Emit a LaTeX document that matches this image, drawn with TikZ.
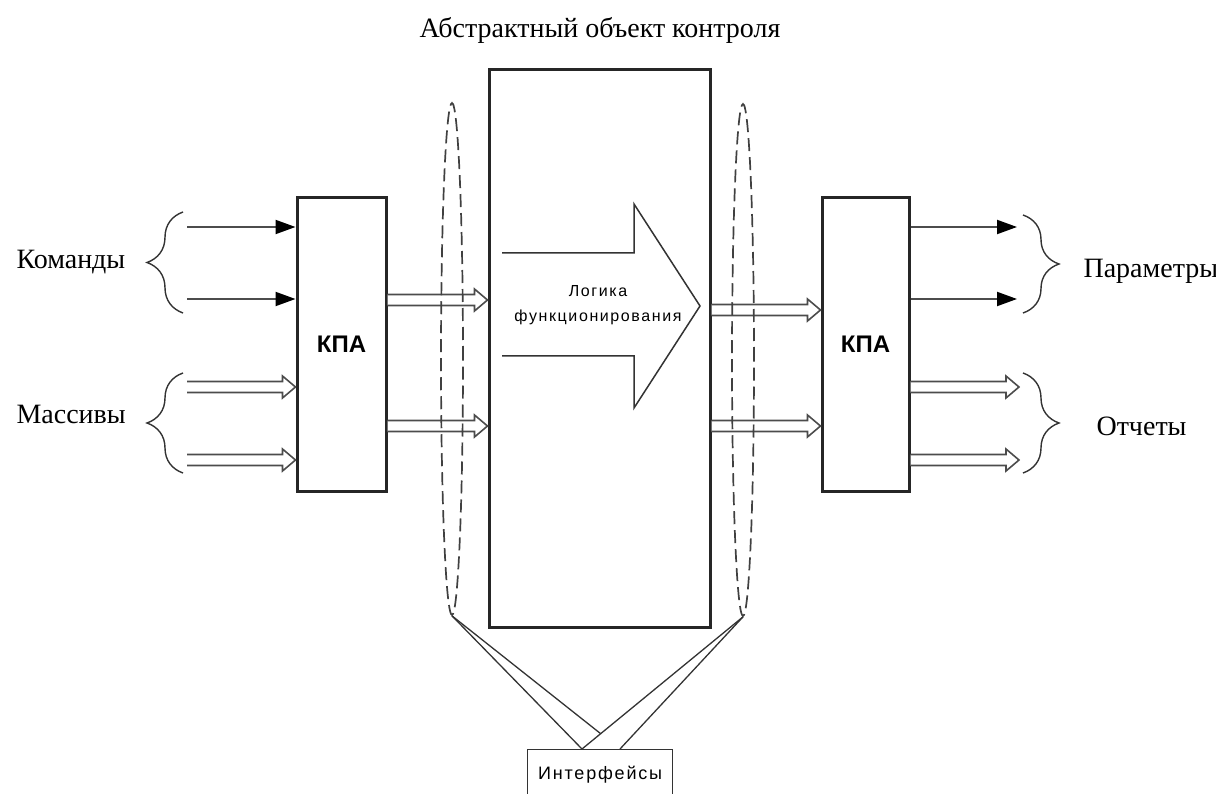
\documentclass[tikz,border=0pt]{standalone}
\usepackage{fontspec}
\setmainfont{Liberation Serif}
\newfontfamily\sansbold{Liberation Sans}
\newfontfamily\sanswide[LetterSpace=10]{Liberation Sans}
\usepackage{tikz}
\usetikzlibrary{arrows.meta,calc,decorations.pathreplacing,shapes.geometric}

\begin{document}
\begin{tikzpicture}[x=1pt,y=-1pt]
    \tikzstyle{block}=[draw=black!85,line width=3pt,inner sep=0pt]
    \tikzstyle{sidetext}=[font=\fontsize{28}{32}\selectfont,anchor=base west]
    \tikzstyle{feed}=[draw=black!70,line width=2pt,-{Triangle[length=20pt,width=14pt,color=black]}]
    \tikzstyle{bus}=[draw=black!70,line width=1.6pt,fill=white,
        to path={($(\tikztostart)+(0,-5.5)$) -- ($(\tikztotarget)+(-13,-5.5)$) -- ($(\tikztotarget)+(-13,-11)$)
            -- (\tikztotarget) -- ($(\tikztotarget)+(-13,11)$) -- ($(\tikztotarget)+(-13,5.5)$) -- ($(\tikztostart)+(0,5.5)$)}]
    \tikzstyle{oval}=[ellipse,draw=black!75,line width=1.7pt,dash pattern=on 13pt off 6pt,
        minimum width=22pt,minimum height=512pt,inner sep=0pt]
    \tikzstyle{curly}=[draw=black!80,line width=1.4pt,decorate,decoration={brace,amplitude=36pt}]
    \tikzstyle{thinline}=[draw=black!80,line width=1.3pt]

    \useasboundingbox (0,0) rectangle (1216,794);

    \node[anchor=base,font=\fontsize{28}{32}\selectfont] (title) at (600,38) {Абстрактный объект контроля};

    \node[block,minimum width=221pt,minimum height=557pt] (core) at (599.5,348.5) {};
    \node[block,minimum width=89pt,minimum height=293pt,font=\sansbold\bfseries\fontsize{24}{26}\selectfont] (kpaL) at (341.5,344.5) {КПА};
    \node[block,minimum width=87pt,minimum height=293pt,font=\sansbold\bfseries\fontsize{24}{26}\selectfont] (kpaR) at (865.5,344.5) {КПА};

    \draw[draw=black!80,line width=1.5pt] (502,253) -- (634,253) -- (634,204) -- (700,306) -- (634,408) -- (634,356) -- (502,356);
    \node[align=center,font=\sanswide\fontsize{16}{25}\selectfont] (logic) at (598,305) {Логика\\функционирования};

    \foreach \y in {227,299} {
        \coordinate (cmd-\y) at (187,\y);
        \coordinate (cmdend-\y) at (kpaL.west |- cmd-\y);
        \coordinate (par-\y) at (1017,\y);
        \coordinate (parbeg-\y) at (kpaR.east |- par-\y);
        \draw[feed] (cmd-\y) -- (cmdend-\y);
        \draw[feed] (parbeg-\y) -- (par-\y);
    }
    \foreach \y in {387,460} {
        \coordinate (arr-\y) at (187,\y);
        \coordinate (arrend-\y) at (kpaL.west |- arr-\y);
        \coordinate (rep-\y) at (1019,\y);
        \coordinate (repbeg-\y) at (kpaR.east |- rep-\y);
        \draw[bus] (arr-\y) to (arrend-\y);
        \draw[bus] (repbeg-\y) to (rep-\y);
    }
    \foreach \y in {300,426} {
        \coordinate (lvl-\y) at (0,\y);
        \coordinate (inbeg-\y) at (kpaL.east |- lvl-\y);
        \coordinate (inend-\y) at (core.west |- lvl-\y);
        \draw[bus] (inbeg-\y) to (inend-\y);
    }
    \foreach \y in {310,426} {
        \coordinate (lvl-\y) at (0,\y);
        \coordinate (outbeg-\y) at (core.east |- lvl-\y);
        \coordinate (outend-\y) at (kpaR.west |- lvl-\y);
        \draw[bus] (outbeg-\y) to (outend-\y);
    }

    \draw[curly] (183,313) -- (183,212);
    \draw[curly] (183,473) -- (183,373);
    \draw[curly] (1023,215) -- (1023,313);
    \draw[curly] (1023,373) -- (1023,473);

    \node[sidetext] (cmds) at (13,269) {Команды};
    \node[sidetext] (arrs) at (13,423) {Массивы};
    \node[sidetext] (pars) at (1080,278) {Параметры};
    \node[sidetext] (reps) at (1093,435) {Отчеты};

    \node[oval] (ringL) at (452,359) {};
    \node[oval] (ringR) at (743,360) {};

    \node[draw=black!80,line width=1.3pt,minimum width=145pt,minimum height=51pt,anchor=north west,
        font=\sanswide\fontsize{18}{20}\selectfont] (iface) at (527,749) {Интерфейсы};
    \coordinate (pinA) at (582,749);
    \coordinate (pinB) at (620,749);
    \draw[thinline] (ringL.south) -- (pinA);
    \draw[thinline] (ringR.south) -- (pinA);
    \draw[thinline] (ringR.south) -- (pinB);
    \draw[thinline] (ringL.south) -- (intersection of ringL.south--pinB and ringR.south--pinA);
    % \draw[thinline] (ringL.south) -- (pinB);
\end{tikzpicture}
\end{document}
